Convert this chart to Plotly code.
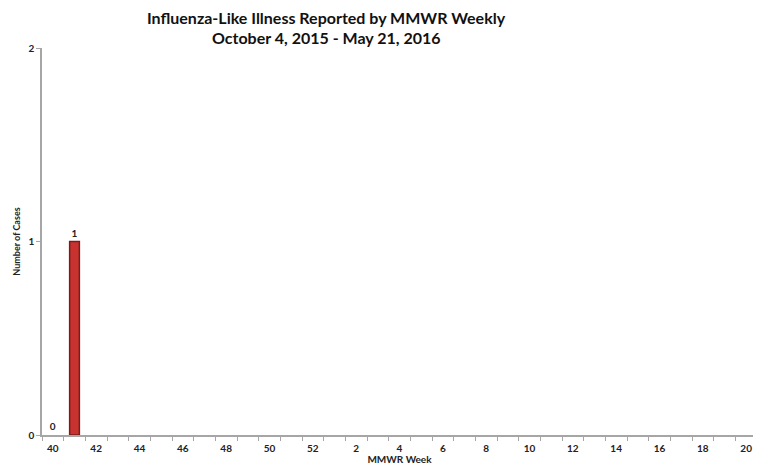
import plotly.graph_objects as go

weeks = [str(w) for w in range(40, 53)] + [str(w) for w in range(1, 21)]
cases = [0, 1] + [None] * (len(weeks) - 2)
labels = ["<b>0</b>", "<b>1</b>"] + [""] * (len(weeks) - 2)
tick_labels = [w if int(w) % 2 == 0 else "" for w in weeks]

title_lines = ["Influenza-Like Illness Reported by MMWR Weekly",
               "October 4, 2015 - May 21, 2016"]

xpos = list(range(len(weeks)))

W, H = 753, 457
ML, MR, MT, MB = 34, 4, 40, 30
PH = H - MT - MB
PW = W - ML - MR

outline = [1.5 if (v or 0) > 0 else 0 for v in cases]

fig = go.Figure()
fig.add_trace(go.Bar(
    x=xpos, y=cases, text=labels, textposition="outside", cliponaxis=False,
    textfont=dict(family="Lato", size=10, color="#222222"),
    marker=dict(color="#c9332f", line=dict(color="#7a1c1a", width=outline)),
    width=0.45,
))

title_x = (318 - ML) / PW
for line, ypix in zip(title_lines, [9, 29]):
    fig.add_annotation(
        text=f"<b>{line}</b>", x=title_x, xref="paper", xanchor="center",
        y=1 + (MT - ypix) / PH, yref="paper", yanchor="middle", showarrow=False,
        font=dict(family="Lato", size=16, color="#111111"),
    )

fig.update_layout(
    width=W, height=H,
    margin=dict(l=ML, r=MR, t=MT, b=MB),
    paper_bgcolor="white", plot_bgcolor="white",
    showlegend=False,
    font=dict(family="Lato", color="#222222"),
    xaxis=dict(
        range=[-0.5, len(weeks) - 0.5], automargin=False,
        tickmode="array", tickvals=xpos, ticktext=[f"<b>{t}</b>" for t in tick_labels],
        ticks="", showline=True, linecolor="#a6a6a6", linewidth=1.5,
        tickfont=dict(size=10, color="#222222"), ticklabelstandoff=3,
        showgrid=False, zeroline=False,
        minor=dict(tick0=-0.5, dtick=1, ticks="outside", ticklen=4, tickcolor="#a6a6a6"),
        title=dict(text="<b>MMWR Week</b>", font=dict(size=10), standoff=3),
    ),
    yaxis=dict(
        range=[0, 2], tickvals=[0, 1, 2], ticktext=["<b>0</b>", "<b>1</b>", "<b>2</b>"],
        ticks="outside", ticklen=4, tickcolor="#a6a6a6", automargin=False,
        showline=True, linecolor="#a6a6a6", linewidth=1.5,
        tickfont=dict(size=10, color="#222222"),
        showgrid=False, zeroline=False,
        title=dict(text="<b>Number of Cases</b>", font=dict(size=9), standoff=6),
    ),
)

fig.write_html("out.html")
